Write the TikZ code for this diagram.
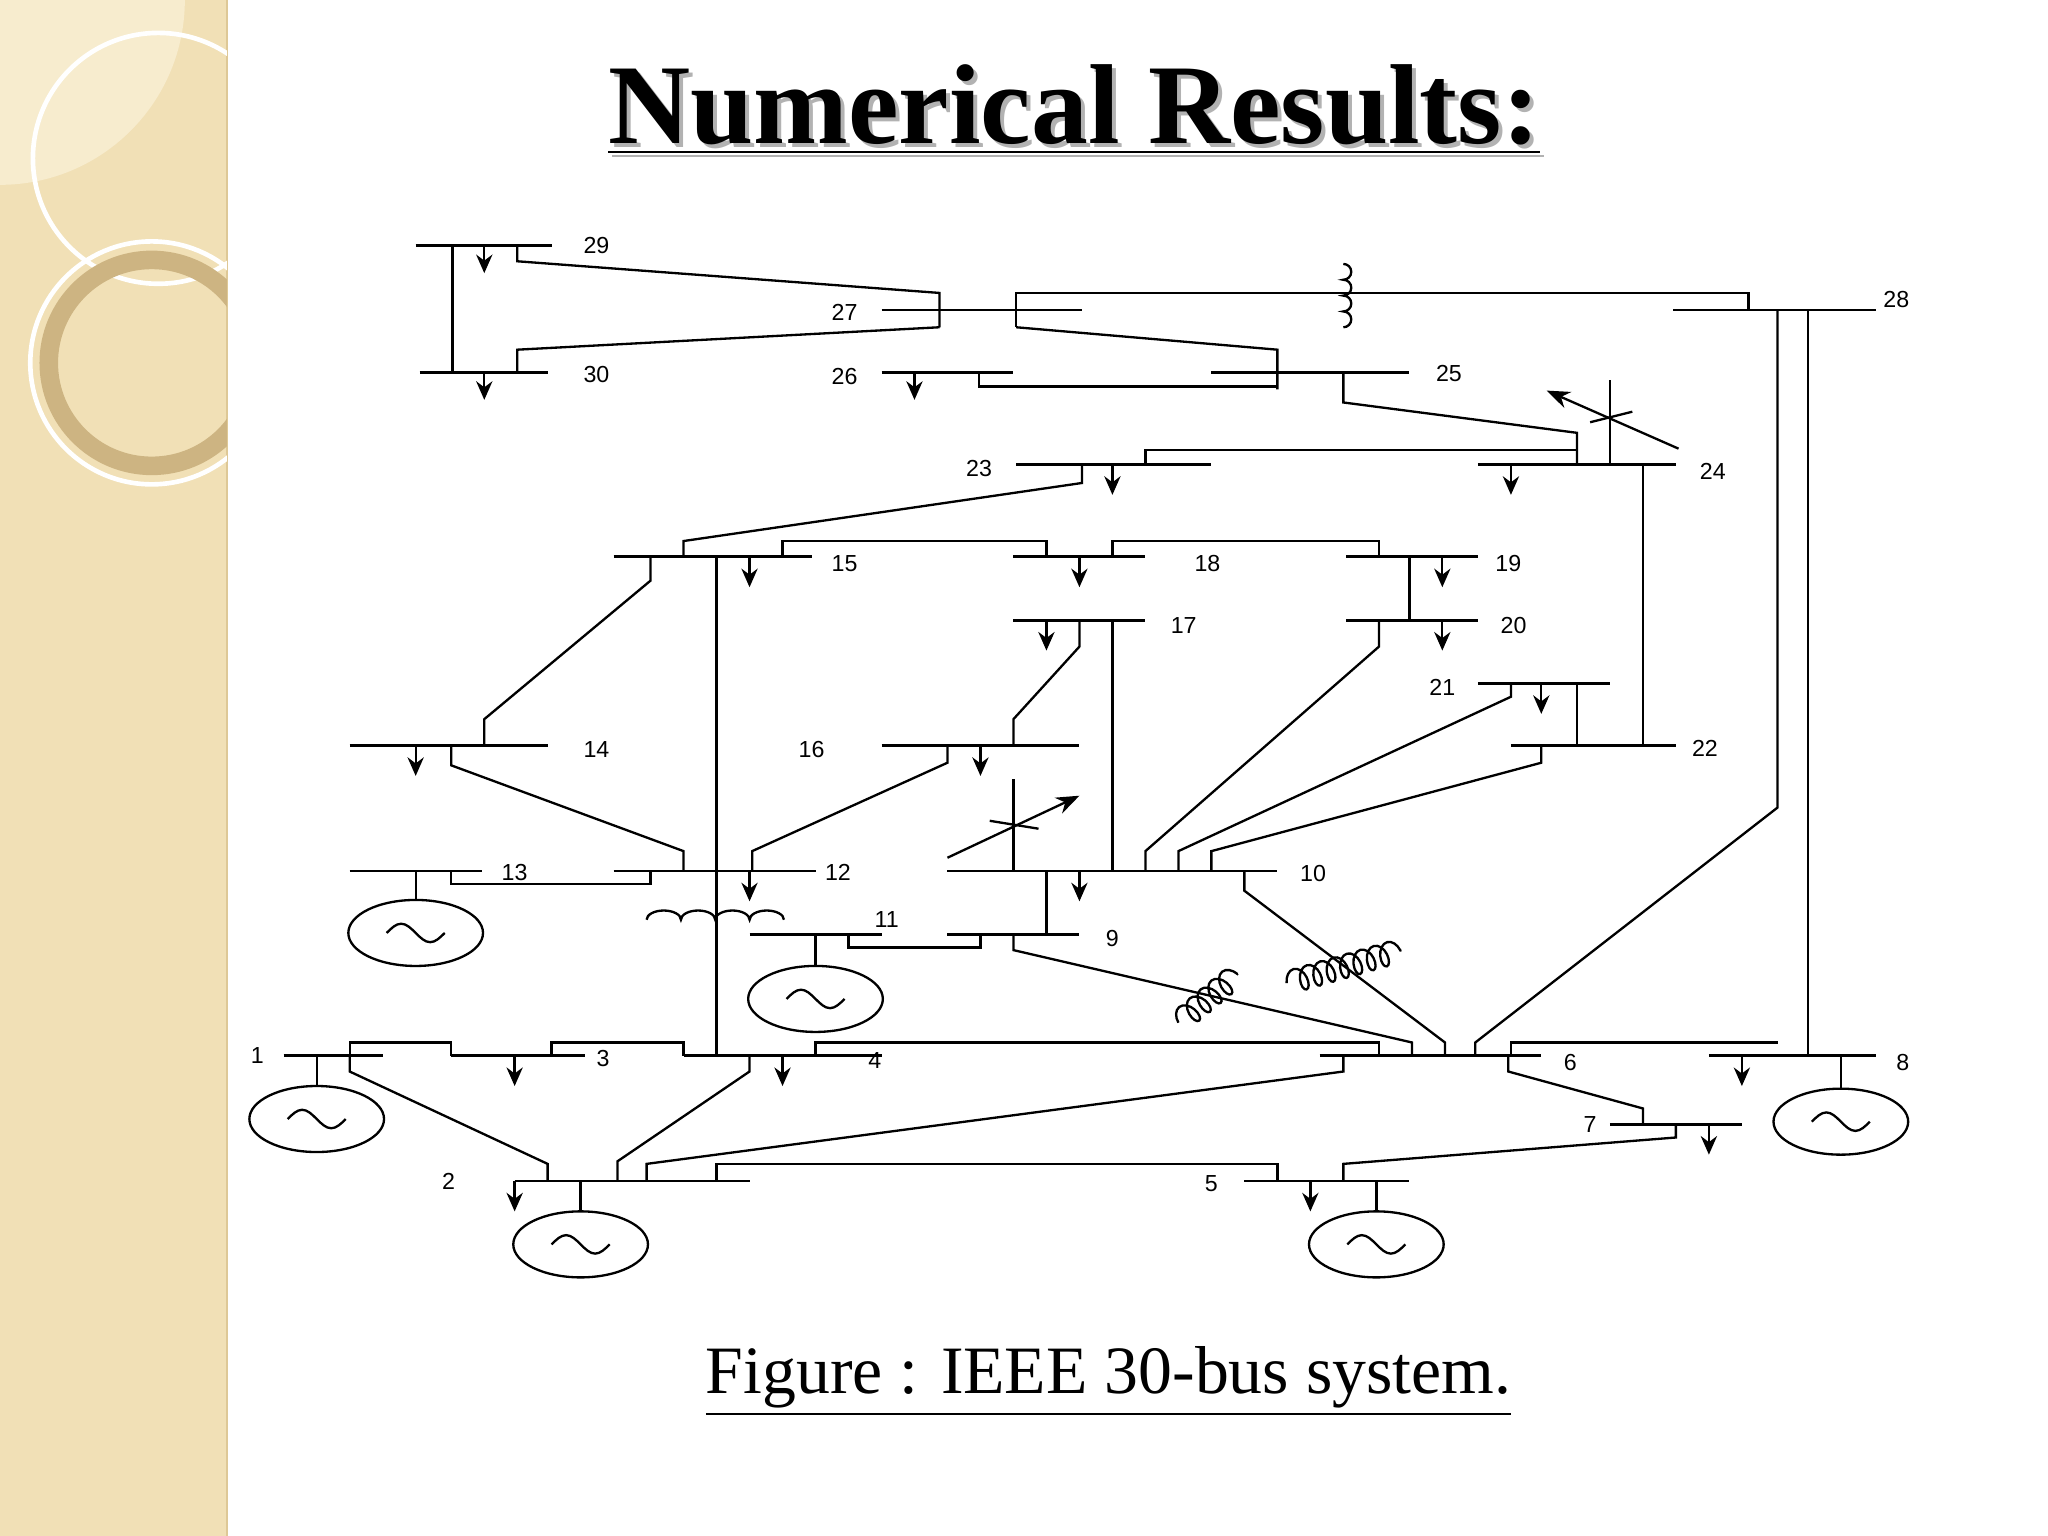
\documentclass[tikz,border=0pt]{standalone}
\usepackage{fontspec}
\setmainfont{Liberation Serif}
\newfontfamily\lab{Liberation Sans}
\usetikzlibrary{arrows.meta,decorations.pathmorphing}
\begin{document}
\begin{tikzpicture}[x=0.01cm,y=-0.01cm,line width=0.5pt,
  bus/.style={line width=0.6pt},
  ld/.style={-{Stealth[length=4pt,width=3.5pt]}},
  lb/.style={font=\lab\fontsize{5}{6}\selectfont,inner sep=0pt}]
\useasboundingbox (0,0) rectangle (1552,1164);
% decorative strip
\fill[color={rgb,255:red,241;green,224;blue,182}] (0,0) rectangle (172,1164);
\draw[color={rgb,255:red,222;green,200;blue,150},line width=0.5pt] (172,0)--(172,1164);
\begin{scope}
\clip (0,0) rectangle (172,1164);
\fill[color={rgb,255:red,247;green,236;blue,206}] (0,0) circle[radius=1.4cm];
\draw[white,line width=1pt] (120,120) circle[radius=0.95cm];
\draw[color={rgb,255:red,205;green,180;blue,130},line width=4pt] (115,275) circle[radius=0.78cm];
\draw[white,line width=1pt] (115,275) circle[radius=0.92cm];
\end{scope}
% title
\node[font=\bfseries\fontsize{24.5}{28}\selectfont,gray!60,inner sep=0pt] at (817,86) {\underline{Numerical Results:}};
\node[font=\bfseries\fontsize{24.5}{28}\selectfont,inner sep=0pt] (title) at (814,83) {\underline{Numerical Results:}};
\node[font=\fontsize{14.6}{18}\selectfont,inner sep=0pt] (cap) at (840,1047) {\underline{Figure : IEEE 30-bus system.}};

% ---- buses ----
\draw[bus] (315,186)--(418,186); \node[lb] at (452,186) {29}; \draw[ld] (367,186)--(367,207);
\draw[bus] (318,282)--(415,282); \node[lb] at (452,284) {30}; \draw[ld] (367,282)--(367,303);
\draw (343,186)--(343,282);
\draw[bus] (668,235)--(820,235); \node[lb] at (640,237) {27};
\draw (392,186)--(392,198)--(712,222)--(712,248);
\draw (392,282)--(392,265)--(712,248);
\draw (770,222)--(770,248);
\draw (770,235)--(770,222)--(1325,222)--(1325,235);
\draw[bus] (1268,235)--(1422,235); \node[lb] at (1437,227) {28};
\draw (1018,200) foreach \i in {1,...,4}{ arc[start angle=90,end angle=-90,radius=0.06cm] -- ++(0,0)};
\draw (770,248)--(968,265)--(968,295);
\draw[bus] (918,282)--(1068,282); \node[lb] at (1098,283) {25};
\draw[bus] (668,282)--(768,282); \node[lb] at (640,285) {26}; \draw[ld] (693,282)--(693,303);
\draw (742,282)--(742,293)--(968,293);
\draw (1018,282)--(1018,305)--(1195,328)--(1195,352);
\draw[bus] (1120,352)--(1270,352); \node[lb] at (1298,357) {24}; \draw[ld] (1145,352)--(1145,375);
\draw (1220,352)--(1220,288);
\draw[-{Stealth[length=5pt]}] (1272,340)--(1172,296);
\draw (1205,320)--(1237,312);
\draw[bus] (770,352)--(918,352); \node[lb] at (742,355) {23}; \draw[ld] (843,352)--(843,375);
\draw (868,352)--(868,341)--(1195,341);
\draw (1245,352)--(1245,565);
\draw (1347,235)--(1347,612)--(1118,790)--(1118,800);
\draw (1370,235)--(1370,800);
% 15,18,19,20,17
\draw[bus] (465,422)--(615,422); \node[lb] at (640,427) {15}; \draw[ld] (568,422)--(568,445);
\draw (518,422)--(518,410)--(820,366)--(820,352);
\draw (593,422)--(593,410)--(793,410)--(793,422);
\draw[bus] (768,422)--(868,422); \node[lb] at (915,427) {18}; \draw[ld] (818,422)--(818,445);
\draw (843,422)--(843,410)--(1045,410)--(1045,422);
\draw[bus] (1020,422)--(1120,422); \node[lb] at (1143,427) {19}; \draw[ld] (1093,422)--(1093,445);
\draw[bus] (1020,470)--(1120,470); \node[lb] at (1147,474) {20}; \draw[ld] (1093,470)--(1093,493);
\draw (1068,422)--(1068,470);
\draw[bus] (768,470)--(868,470); \node[lb] at (897,474) {17}; \draw[ld] (793,470)--(793,493);
\draw (843,470)--(843,660);
\draw (818,470)--(818,490)--(768,545)--(768,565);
\draw[bus] (668,565)--(818,565); \node[lb] at (615,568) {16}; \draw[ld] (743,565)--(743,588);
\draw[bus] (265,565)--(415,565); \node[lb] at (452,568) {14}; \draw[ld] (315,565)--(315,588);
\draw (367,565)--(367,545)--(493,440)--(493,422);
\draw (342,565)--(342,580)--(518,645)--(518,660);
\draw[bus] (465,660)--(618,660); \node[lb] at (635,661) {12}; \draw[ld] (568,660)--(568,683);
\draw (718,565)--(718,578)--(570,645)--(570,660);
\draw (543,422)--(543,800);
\draw (493,660)--(493,670)--(342,670)--(342,660);
\draw[bus] (265,660)--(365,660); \node[lb] at (390,661) {13};
\draw (315,660)--(315,682);
\draw (490,697) foreach \i in {1,...,4}{ arc[start angle=180,end angle=0,x radius=0.13cm,y radius=0.07cm] -- ++(0,0)};
\draw[bus] (568,708)--(668,708); \node[lb] at (672,697) {11};
\draw (618,708)--(618,732);
\draw (643,708)--(643,718)--(743,718)--(743,708);
\draw[bus] (718,708)--(818,708); \node[lb] at (843,711) {9};
\draw (793,708)--(793,660);
\draw[bus] (718,660)--(968,660); \node[lb] at (995,662) {10}; \draw[ld] (818,660)--(818,683);
\draw (768,660)--(768,590);
\draw[-{Stealth[length=5pt]}] (718,650)--(818,603);
\draw (750,622)--(787,628);
\draw (868,660)--(868,645)--(1045,490)--(1045,470);
\draw (893,660)--(893,645)--(1145,528)--(1145,518);
\draw[bus] (1120,518)--(1220,518); \node[lb] at (1093,521) {21}; \draw[ld] (1168,518)--(1168,541);
\draw (1195,518)--(1195,565);
\draw (918,660)--(918,645)--(1168,578)--(1168,565);
\draw[bus] (1145,565)--(1270,565); \node[lb] at (1292,567) {22};
\draw (943,660)--(943,675)--(1095,790)--(1095,800);
\draw (768,708)--(768,720)--(1070,790)--(1070,800);
\draw[decorate,decoration={coil,aspect=0.6,segment length=3pt,amplitude=2.5pt}] (893,775)--(938,738);
\draw[decorate,decoration={coil,aspect=0.6,segment length=3pt,amplitude=2.5pt}] (975,745)--(1062,720);
% bottom buses
\draw[bus] (1000,800)--(1168,800); \node[lb] at (1190,805) {6};
\draw (1145,800)--(1145,790)--(1347,790);
\draw[bus] (1295,800)--(1422,800); \node[lb] at (1442,805) {8}; \draw[ld] (1320,800)--(1320,823);
\draw (1395,800)--(1395,825);
\draw (1143,800)--(1143,812)--(1245,840)--(1245,852);
\draw[bus] (1220,852)--(1320,852); \node[lb] at (1205,852) {7}; \draw[ld] (1295,852)--(1295,875);
\draw (1270,852)--(1270,862)--(1018,882)--(1018,895);
\draw[bus] (943,895)--(1068,895); \node[lb] at (918,897) {5}; \draw[ld] (993,895)--(993,918);
\draw (1043,895)--(1043,918);
\draw[bus] (518,800)--(668,800); \node[lb] at (663,804) {4}; \draw[ld] (593,800)--(593,823);
\draw (618,800)--(618,790)--(1045,790)--(1045,800);
\draw (490,895)--(490,882)--(1018,812)--(1018,800);
\draw[bus] (390,895)--(568,895); \node[lb] at (340,895) {2}; \draw[ld] (390,895)--(390,918);
\draw (440,895)--(440,918);
\draw (543,895)--(543,882)--(968,882)--(968,895);
\draw (468,895)--(468,880)--(568,812)--(568,800);
\draw (265,800)--(265,812)--(415,882)--(415,895);
\draw[bus] (215,800)--(290,800); \node[lb] at (195,800) {1};
\draw (240,800)--(240,822);
\draw (265,800)--(265,790)--(342,790)--(342,800);
\draw[bus] (342,800)--(443,800); \node[lb] at (457,802) {3}; \draw[ld] (390,800)--(390,823);
\draw (418,800)--(418,790)--(518,790)--(518,800);
% generators
\foreach \cx/\cy in {315/707,618/757,240/848,1395/850,440/943,1043/943}{
  \draw (\cx,\cy) ellipse[x radius=0.51cm,y radius=0.25cm];
  \draw (\cx-22,\cy) sin (\cx-11,\cy-7) cos (\cx,\cy) sin (\cx+11,\cy+7) cos (\cx+22,\cy);
}
\end{tikzpicture}
\end{document}
